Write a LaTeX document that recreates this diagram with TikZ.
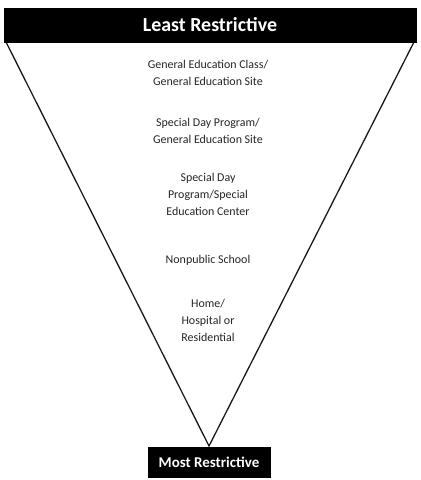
\documentclass[tikz,border=0pt]{standalone}
\usepackage{fontspec}
\setmainfont{Carlito}
\tikzset{
  barS/.style  ={fill=black, draw=black, text=white, inner sep=0pt},
  edgeS/.style ={black!90, line width=1.3pt},
  levelT/.style={align=center, text=black!85, inner sep=0pt,
                 font=\fontsize{12}{17}\selectfont},
}

\begin{document}
\begin{tikzpicture}[x=1bp, y=-1bp]
  \useasboundingbox (0,0) rectangle (420,480);
  % funnel
  \coordinate (tl) at (6,42);  \coordinate (tr) at (414,42);
  \coordinate (apex) at (209,446);
  \draw[edgeS] (tl) -- (apex) -- (tr);
  % end bars
  \node[barS, minimum width=412bp, minimum height=34bp,
        font=\fontsize{20}{22}\selectfont\bfseries] (least) at (210,25) {Least Restrictive};
  \node[barS, minimum width=122bp, minimum height=30bp,
        font=\fontsize{15}{17}\selectfont\bfseries] (most) at (209,462) {Most Restrictive};
  % placements
  \node[levelT] (gened)  at (208,73)  {General Education Class/\\General Education Site};
  \node[levelT] (sdpgen) at (208,131) {Special Day Program/\\General Education Site};
  \node[levelT] (sdpsec) at (208,194) {Special Day\\Program/Special\\Education Center};
  \node[levelT] (npsch)  at (208,260) {Nonpublic School};
  \node[levelT] (home)   at (208,320) {Home/\\Hospital or\\Residential};
\end{tikzpicture}
\end{document}
